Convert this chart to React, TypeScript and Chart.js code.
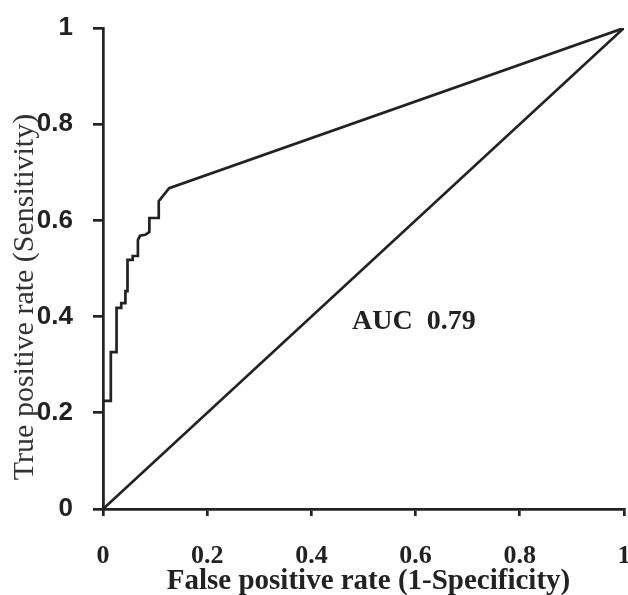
import React, { useEffect, useRef } from "react";
import { Chart, registerables } from "chart.js";

Chart.register(...registerables);

const rocX = [0, 0, 0.015, 0.015, 0.026, 0.026, 0.035, 0.035, 0.043, 0.043, 0.047, 0.047, 0.057, 0.057, 0.067, 0.067, 0.071, 0.081, 0.089, 0.089, 0.107, 0.107, 0.127, 1];
const rocY = [0, 0.225, 0.225, 0.326, 0.326, 0.418, 0.418, 0.428, 0.428, 0.453, 0.453, 0.518, 0.518, 0.526, 0.526, 0.559, 0.568, 0.57, 0.576, 0.605, 0.605, 0.64, 0.667, 1];
const diagX = [0, 1];
const diagY = [0, 1];
const xTicks = [0, 0.2, 0.4, 0.6, 0.8, 1];
const yTicks = [0, 0.2, 0.4, 0.6, 0.8, 1];
const xTitle = "False positive rate (1-Specificity)";
const yTitle = "True positive rate (Sensitivity)";
const aucLabel = "AUC  0.79";
const aucPos = { x: 0.478, y: 0.39 };

const fmt = (v: number) => (v === 0 || v === 1 ? String(v) : v.toFixed(1));

export default function App() {
  const ref = useRef<HTMLCanvasElement | null>(null);
  useEffect(() => {
    if (!ref.current) return;
    const textPlugin = {
      id: "texts",
      afterDraw(chart: any) {
        const ctx = chart.ctx;
        const xs = chart.scales.x;
        const ys = chart.scales.y;
        const area = chart.chartArea;
        ctx.save();
        // AUC label
        ctx.fillStyle = "#222";
        ctx.font = "bold 28px 'Liberation Serif'";
        ctx.textAlign = "left";
        ctx.textBaseline = "middle";
        ctx.fillText(aucLabel, xs.getPixelForValue(aucPos.x), ys.getPixelForValue(aucPos.y));
        // x title
        ctx.font = "bold 29px 'Liberation Serif'";
        ctx.textAlign = "center";
        ctx.textBaseline = "alphabetic";
        ctx.fillText(xTitle, (area.left + area.right) / 2 + 5, 589);
        // y title
        ctx.fillStyle = "#333";
        ctx.font = "30px 'Liberation Serif'";
        ctx.translate(33, 297);
        ctx.rotate(-Math.PI / 2);
        ctx.textAlign = "center";
        ctx.textBaseline = "alphabetic";
        ctx.fillText(yTitle, 0, 0);
        ctx.restore();
      },
    };
    const chart = new Chart(ref.current, {
      type: "scatter",
      data: {
        datasets: [
          {
            data: rocX.map((x, i) => ({ x, y: rocY[i] })),
            showLine: true,
            borderColor: "#222",
            borderWidth: 2.7,
            pointRadius: 0,
            tension: 0,
          },
          {
            data: diagX.map((x, i) => ({ x, y: diagY[i] })),
            showLine: true,
            borderColor: "#222",
            borderWidth: 2.7,
            pointRadius: 0,
          },
        ],
      },
      options: {
        animation: false,
        responsive: true,
        maintainAspectRatio: false,
        layout: { padding: { left: 0, right: 4, top: 28, bottom: 0 } },
        plugins: { legend: { display: false }, tooltip: { enabled: false } },
        scales: {
          x: {
            type: "linear",
            min: 0,
            max: 1,
            afterBuildTicks: (s: any) => {
              s.ticks = xTicks.map((v) => ({ value: v }));
            },
            afterFit: (s: any) => {
              s.height = 86;
              s.paddingLeft = 0;
              s.paddingRight = 0;
            },
            border: { display: true, color: "#222", width: 2.7 },
            grid: { drawOnChartArea: false, tickLength: 7, color: "#222", lineWidth: 2.7 },
            ticks: {
              color: "#222",
              font: { family: "'Liberation Serif'", weight: "bold", size: 26 },
              padding: 25,
              maxRotation: 0,
              autoSkip: false,
              callback: (v: any) => fmt(Number(v)),
            },
          },
          y: {
            type: "linear",
            min: 0,
            max: 1,
            afterBuildTicks: (s: any) => {
              s.ticks = yTicks.map((v) => ({ value: v }));
            },
            afterFit: (s: any) => {
              s.width = 103;
              s.paddingTop = 0;
              s.paddingBottom = 0;
            },
            border: { display: true, color: "#222", width: 2.7 },
            grid: { drawOnChartArea: false, tickLength: 10, color: "#222", lineWidth: 2.7 },
            ticks: {
              color: "#222",
              font: { family: "'Liberation Sans'", weight: "bold", size: 26 },
              padding: 20,
              autoSkip: false,
              callback: (v: any) => fmt(Number(v)),
            },
          },
        },
      },
      plugins: [textPlugin],
    });
    return () => chart.destroy();
  }, []);
  return (
    <div style={{ position: "absolute", left: 0, top: 0, width: 628, height: 595, background: "#fff" }}>
      <canvas ref={ref} />
    </div>
  );
}
